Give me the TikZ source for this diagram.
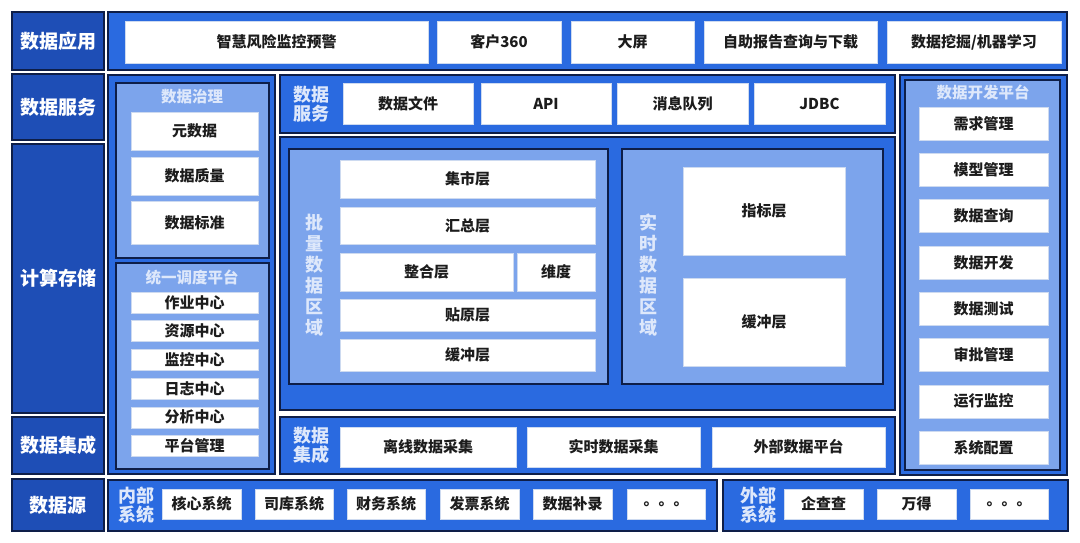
\documentclass[tikz,border=0pt]{standalone}
\usepackage{fontspec}
\setmainfont{Noto Sans CJK SC}
\definecolor{darkblue}{RGB}{30,78,182}
\definecolor{midblue}{RGB}{42,106,224}
\definecolor{lightblue}{RGB}{124,164,236}
\definecolor{navy}{RGB}{14,30,72}
\definecolor{paleedge}{RGB}{205,218,240}
\definecolor{paletext}{RGB}{222,232,251}
\definecolor{textblack}{RGB}{28,28,28}

\begin{document}
\begin{tikzpicture}[x=1pt,y=-1pt,
  catbox/.style={fill=darkblue,draw=navy,line width=1.2pt},
  midbox/.style={fill=midblue,draw=navy,line width=1.2pt},
  lightbox/.style={fill=lightblue,draw=navy,line width=1.2pt},
  whitebox/.style={fill=white,draw=paleedge,line width=0.6pt},
  cattext/.style={text=white,font=\fontsize{19}{22}\selectfont\bfseries},
  boxtext/.style={text=textblack,font=\fontsize{15}{18}\selectfont\bfseries},
  titletext/.style={text=paletext,font=\fontsize{15.5}{18}\selectfont\bfseries},
  sidetext/.style={text=paletext,align=center,font=\fontsize{18}{19}\selectfont\bfseries},
  uptext/.style={text=paletext,align=center,font=\fontsize{18}{21}\selectfont\bfseries}]
  \useasboundingbox (0,0) rectangle (1080,542);

  % left column
  \foreach \y/\h/\s/\n in {12/58/数据应用/app,74/66/数据服务/svc,144/269/计算存储/cmp,417/57/数据集成/int,479/52/数据源/src}
    {
      \draw[catbox](12,\y)rectangle++(92,\h);
      \node[cattext] (cat\n) at (58,\y+\h/2) {\s};
    }

  % data application
  \draw[midbox](108,12)rectangle(1067,70);
  \foreach \a/\b/\s [count=\i] in {125/428/智慧风险监控预警,437/561/客户360,571/694/大屏,704/877/自助报告查询与下载,887/1061/{数据挖掘/机器学习}}
    {
      \draw[whitebox](\a,21)rectangle(\b,63);
      \node[boxtext] (app\i) at ({(\a+\b)/2},42) {\s};
    }

  % governance and scheduling
  \draw[midbox](108,75)rectangle(275,474);
  \draw[lightbox](116,83)rectangle(269,258);
  \node[titletext] (govtitle) at (192,97) {数据治理};
  \foreach \y/\h/\s [count=\i] in {112/38/元数据,157/38/数据质量,201/43/数据标准}
    {
      \draw[whitebox](131,\y)rectangle++(127,\h);
      \node[boxtext] (gov\i) at (194.5,\y+\h/2) {\s};
    }
  \draw[lightbox](116,263)rectangle(269,469);
  \node[titletext] (schedtitle) at (192,278) {统一调度平台};
  \foreach \s [count=\i] in {作业中心,资源中心,监控中心,日志中心,分析中心,平台管理}
    {
      \draw[whitebox](131,{292+(\i-1)*28.7})rectangle++(127,21);
      \node[boxtext] (sched\i) at (194.5,{302.5+(\i-1)*28.7}) {\s};
    }

  % data service
  \draw[midbox](280,75)rectangle(895,133);
  \node[sidetext] (svclabel) at (311,104) {数据\\服务};
  \foreach \a/\b/\s [count=\i] in {343/473/数据文件,481/611/API,617/748/消息队列,754/885/JDBC}
    {
      \draw[whitebox](\a,83)rectangle(\b,124);
      \node[boxtext] (svc\i) at ({(\a+\b)/2},103.5) {\s};
    }

  % compute and storage
  \draw[midbox](280,137)rectangle(895,410);
  \draw[lightbox](289,149)rectangle(608,384);
  \node[uptext] (batchlabel) at (314,275) {批\\量\\数\\据\\区\\域};
  \foreach \y/\h/\s [count=\i] in {160/38/集市层,207/37/汇总层,299/32/贴原层,339/32/缓冲层}
    {
      \draw[whitebox](340,\y)rectangle++(255,\h);
      \node[boxtext] (batch\i) at (467.5,\y+\h/2) {\s};
    }
  \draw[whitebox](340,253)rectangle(513,291);
  \node[boxtext] (merge) at (426.5,272) {整合层};
  \draw[whitebox](517,253)rectangle(595,291);
  \node[boxtext] (dim) at (556,272) {维度};
  \draw[lightbox](622,149)rectangle(883,384);
  \node[uptext] (reallabel) at (648,275) {实\\时\\数\\据\\区\\域};
  \draw[whitebox](683,167)rectangle(845,255);
  \node[boxtext] (realidx) at (764,211) {指标层};
  \draw[whitebox](683,278)rectangle(845,366);
  \node[boxtext] (realbuf) at (764,322) {缓冲层};

  % data integration
  \draw[midbox](280,417)rectangle(895,474);
  \node[sidetext] (intlabel) at (311,445.5) {数据\\集成};
  \foreach \a/\b/\s [count=\i] in {340/516/离线数据采集,527/700/实时数据采集,712/885/外部数据平台}
    {
      \draw[whitebox](\a,427)rectangle(\b,467);
      \node[boxtext] (int\i) at ({(\a+\b)/2},447) {\s};
    }

  % data development platform
  \draw[midbox](900,75)rectangle(1067,475);
  \draw[lightbox](905,80)rectangle(1060,470);
  \node[titletext] (devtitle) at (983,92) {数据开发平台};
  \foreach \s [count=\i] in {需求管理,模型管理,数据查询,数据开发,数据测试,审批管理,运行监控,系统配置}
    {
      \draw[whitebox](919,{107+(\i-1)*46.3})rectangle++(129,33);
      \node[boxtext] (dev\i) at (983.5,{123.5+(\i-1)*46.3}) {\s};
    }

  % data sources
  \draw[midbox](108,480)rectangle(717,531);
  \node[sidetext] (innerlabel) at (136,505.5) {内部\\系统};
  \foreach \a/\b/\s [count=\i] in {162/241/核心系统,255/333/司库系统,347/425/财务系统,440/519/发票系统,533/612/数据补录,627/705/。。。}
    {
      \draw[whitebox](\a,489)rectangle(\b,519);
      \node[boxtext] (inner\i) at ({(\a+\b)/2},504) {\s};
    }
  \draw[midbox](723,480)rectangle(1068,531);
  \node[sidetext] (outerlabel) at (758,505.5) {外部\\系统};
  \foreach \a/\b/\s [count=\i] in {784/863/企查查,877/956/万得,970/1048/。。。}
    {
      \draw[whitebox](\a,489)rectangle(\b,519);
      \node[boxtext] (outer\i) at ({(\a+\b)/2},504) {\s};
    }
\end{tikzpicture}
\end{document}
